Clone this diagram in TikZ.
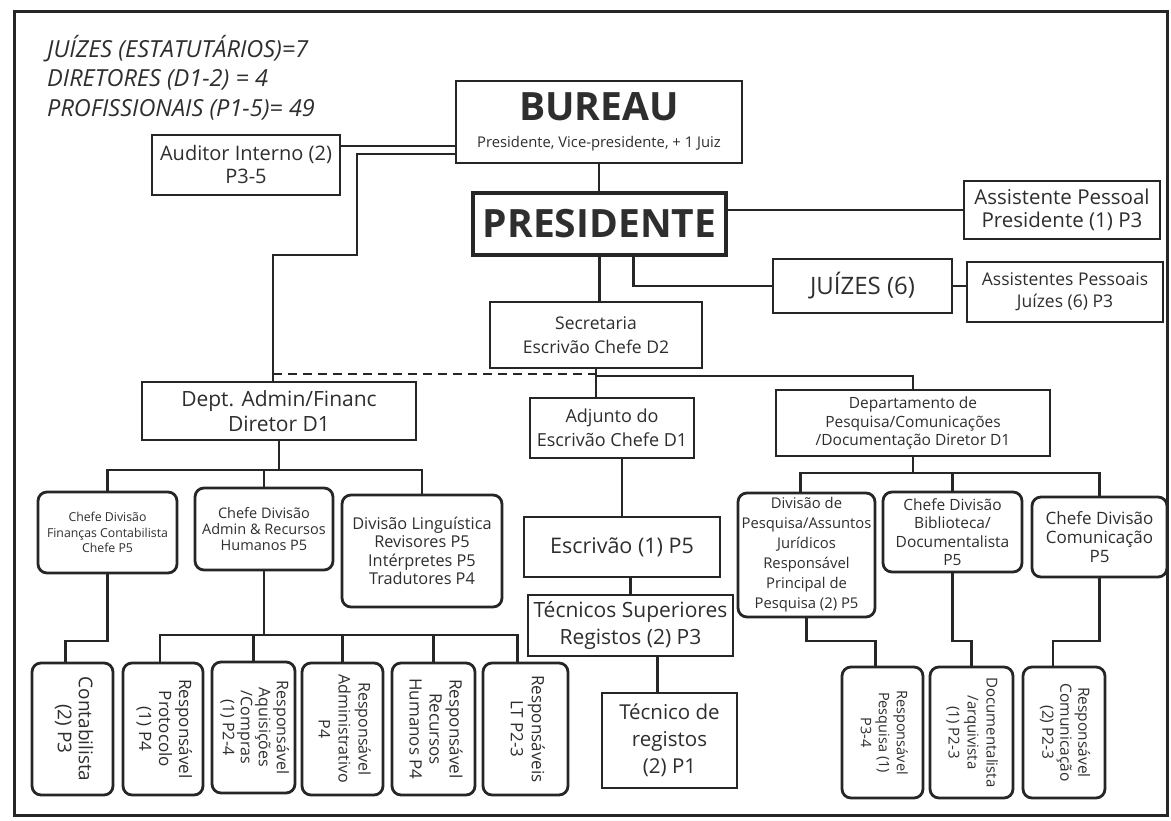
\documentclass[tikz,border=0pt]{standalone}
\usepackage{fontspec}
\setmainfont{Open Sans}
\usepackage{graphicx}
\newcommand\myfs[2]{\fontsize{#1}{#2}\selectfont}
\newcommand\vtxt[3]{\rotatebox{-90}{\myfs{#1}{#2}\begin{tabular}{@{}c@{}}#3\end{tabular}}}
\definecolor{lc}{HTML}{262626}
\definecolor{tc}{HTML}{2E2E2E}
\tikzset{
  bx/.style={draw=lc, line width=2.8pt, inner sep=0pt, align=center, text=tc},
  rbx/.style={bx, rounded corners=9pt},
  cn/.style={draw=lc, line width=2.2pt},
  hd/.style={anchor=base west, text=tc, inner sep=0pt, font=\myfs{23.5}{26}\itshape},
}
\begin{document}
\begin{tikzpicture}[x=1pt,y=-1pt]
\useasboundingbox (0,0) rectangle (1171,821);
\fill[white] (0,0) rectangle (1171,821);
\draw[lc, line width=3pt] (14,12) rectangle (1167,815);

% header text
\node[hd] (h1) at (47,58) {JUÍZES (ESTATUTÁRIOS)=7};
\node[hd] (h2) at (47,87) {DIRETORES (D1-2) = 4};
\node[hd] (h3) at (47,117) {PROFISSIONAIS (P1-5)= 49};

% top level
\node[bx, minimum width=188pt, minimum height=60pt, font=\myfs{20}{23}] (aud) at (246,165) {Auditor Interno (2)\\P3-5};
\node[bx, minimum width=286pt, minimum height=82pt, font=\myfs{14.8}{16}] (bur) at (599,122) {{\myfs{39}{40}\bfseries BUREAU}\\[11pt]Presidente, Vice-presidente, + 1 Juiz};
\node[bx, line width=3.6pt, minimum width=253pt, minimum height=62pt, font=\myfs{39}{40}\bfseries] (pres) at (599.5,224) {PRESIDENTE};
\node[bx, minimum width=196pt, minimum height=58pt, font=\myfs{20.5}{23}] (asp) at (1062,210) {Assistente Pessoal\\Presidente (1) P3};
\node[bx, minimum width=179pt, minimum height=54pt, font=\myfs{24}{28}] (juz) at (862.5,286) {JUÍZES (6)};
\node[bx, minimum width=196pt, minimum height=60pt, font=\myfs{17.5}{22}] (asps) at (1065,292) {Assistentes Pessoais\\Juízes (6) P3};
\node[bx, minimum width=212pt, minimum height=66pt, font=\myfs{17.5}{24}] (sec) at (596,335) {Secretaria\\Escrivão Chefe D2};

% departments
\node[bx, minimum width=274pt, minimum height=58pt, font=\myfs{21}{25}] (dadm) at (279,411) {Dept. Admin/Financ\\Diretor D1};
\node[bx, minimum width=164pt, minimum height=60pt, font=\myfs{18}{24}] (adj) at (612,428) {Adjunto do\\Escrivão Chefe D1};
\node[bx, minimum width=274pt, minimum height=66pt, font=\myfs{15.5}{18.5}] (dpq) at (913,423) {Departamento de\\Pesquisa/Comunicações\\/Documentação Diretor D1};

% divisions
\node[rbx, minimum width=139pt, minimum height=81pt, font=\myfs{12.3}{15.5}] (cfin) at (107.5,532.5) {Chefe Divisão\\Finanças Contabilista\\Chefe P5};
\node[rbx, minimum width=138pt, minimum height=82pt, font=\myfs{14.5}{16}] (cadm) at (264,529) {Chefe Divisão\\Admin \& Recursos\\Humanos P5};
\node[rbx, minimum width=160pt, minimum height=112pt, font=\myfs{16.3}{18.5}] (dling) at (422,551) {Divisão Linguística\\Revisores P5\\Intérpretes P5\\Tradutores P4};
\node[bx, minimum width=196pt, minimum height=60pt, font=\myfs{21.5}{24}] (escr) at (622,547) {Escrivão (1) P5};
\node[bx, minimum width=205pt, minimum height=61pt, font=\myfs{21}{27}] (tsup) at (630.5,625.5) {Técnicos Superiores\\Registos (2) P3};
\node[bx, minimum width=135pt, minimum height=95pt, font=\myfs{20.5}{27}] (treg) at (669.5,740.5) {Técnico de\\registos\\(2) P1};
\node[rbx, minimum width=137pt, minimum height=124pt, font=\myfs{14.8}{20}] (dpes) at (806.5,555) {Divisão de\\Pesquisa/Assuntos\\Jurídicos\\Responsável\\Principal de\\Pesquisa (2) P5};
\node[rbx, minimum width=139pt, minimum height=80pt, font=\myfs{15.5}{18.5}] (cbib) at (952.5,532) {Chefe Divisão\\Biblioteca/\\Documentalista\\P5};
\node[rbx, minimum width=135pt, minimum height=80pt, font=\myfs{17}{19}] (ccom) at (1099.5,537) {Chefe Divisão\\Comunicação\\P5};

% bottom row
\node[rbx, minimum width=81pt, minimum height=132pt] (cont) at (72.5,729) {\vtxt{19}{21}{Contabilista\\(2) P3}};
\node[rbx, minimum width=80pt, minimum height=132pt] (prot) at (163,729) {\vtxt{17}{20}{Responsável\\Protocolo\\(1) P4}};
\node[rbx, minimum width=83pt, minimum height=131pt] (aqui) at (253.5,727.5) {\vtxt{16}{18}{Responsável\\Aquisições\\/Compras\\(1) P2-4}};
\node[rbx, minimum width=81pt, minimum height=132pt] (radm) at (342.5,729) {\vtxt{16}{20}{Responsável\\Administrativo\\P4}};
\node[rbx, minimum width=83pt, minimum height=132pt] (rrh) at (433.5,729) {\vtxt{17}{20}{Responsável\\Recursos\\Humanos P4}};
\node[rbx, minimum width=85pt, minimum height=132pt] (rlt) at (525.5,729) {\vtxt{17}{21}{Responsáveis\\LT P2-3}};
\node[rbx, minimum width=81pt, minimum height=131pt] (rpes) at (882.5,732.5) {\vtxt{14.5}{18}{Responsável\\Pesquisa (1)\\P3-4}};
\node[rbx, minimum width=83pt, minimum height=131pt] (rdoc) at (971.5,732.5) {\vtxt{15}{19}{Documentalista\\/arquivista\\(1) P2-3}};
\node[rbx, minimum width=82pt, minimum height=131pt] (rcom) at (1064,732.5) {\vtxt{15.5}{18}{Responsável\\Comunicação\\(2) P2-3}};

% connectors
\coordinate (k1) at (357,154);
\coordinate (k2) at (357,255);
\coordinate (aj) at (273,374);
\coordinate (b1) at (0,376);
\coordinate (b2) at (0,470);
\coordinate (b3) at (0,473);
\coordinate (b4) at (0,635);
\coordinate (b5) at (0,641);

\draw[cn] (aud.east |- 0,146) -- (bur.west |- 0,146);
\draw[cn] (bur.west |- k1) -- (k1) -- (k2) -| (aj) -- (aj |- dadm.north);
\draw[cn, dash pattern=on 9pt off 6pt] (aj) -- (sec.south |- aj);
\draw[cn] (bur.south) -- (bur.south |- pres.north);
\draw[cn] (pres.east |- asp.west) -- (asp.west);
\draw[cn] ([xshift=34pt]pres.south) |- (juz.west);
\draw[cn] (juz.east) -- (juz.east -| asps.west);
\draw[cn] (pres.south) -- (pres.south |- sec.north);
\draw[cn] (sec.south) -- (sec.south |- adj.north);
\draw[cn] (sec.south |- b1) -| (dpq.north);
\draw[cn] (adj.south -| escr.north) -- (escr.north);
\draw[cn] (tsup.north) -- (tsup.north |- escr.south);
\draw[cn] ([xshift=-12pt]treg.north) -- ([xshift=-12pt]treg.north |- tsup.south);

\draw[cn] (dadm.south) -- (dadm.south |- b2);
\draw[cn] (cfin.north) |- (dling.north |- b2) -- (dling.north);
\draw[cn] (cadm.north) -- (cadm.north |- b2);

\draw[cn] (dpq.south) -- (dpq.south |- b3);
\draw[cn] ([xshift=-6pt]dpes.north) |- (ccom.north |- b3) -- (ccom.north);
\draw[cn] (cbib.north) -- (cbib.north |- b3);

\draw[cn] (cadm.south) -- (cadm.south |- b4);
\draw[cn] ([xshift=-3pt]prot.north) |- ([xshift=-8pt]rlt.north |- b4) -- ([xshift=-8pt]rlt.north);
\draw[cn] (aqui.north) -- (aqui.north |- b4);
\draw[cn] (radm.north) -- (radm.north |- b4);
\draw[cn] (rrh.north) -- (rrh.north |- b4);
\draw[cn] (cfin.south) |- ([xshift=-7pt]cont.north |- b5) -- ([xshift=-7pt]cont.north);

\draw[cn] (dpes.south) |- ([xshift=-7pt]rpes.north |- b5) -- ([xshift=-7pt]rpes.north);
\draw[cn] (cbib.south) |- (rdoc.north |- b5) -- (rdoc.north);
\draw[cn] (ccom.south) |- ([xshift=-11pt]rcom.north |- b5) -- ([xshift=-11pt]rcom.north);
\end{tikzpicture}
\end{document}
